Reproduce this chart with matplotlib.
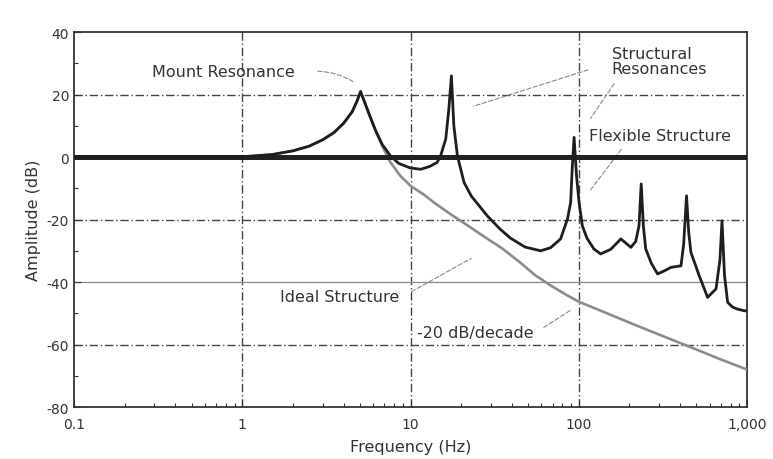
import matplotlib
matplotlib.use("Agg")
import matplotlib.pyplot as plt
from matplotlib.ticker import FixedLocator, NullFormatter

# ---- data ----
flex_freq = [0.1, 1, 1.5, 2, 2.5, 3, 3.5, 4, 4.5, 4.8,
             5.05, 5.3, 5.7, 6.2, 6.8, 7.6, 8.5, 10, 11.5, 13,
             14.4, 15.1, 16.2, 16.9, 17.5, 18.1, 19, 20.8, 23, 28.6,
             34, 39.4, 48, 59.4, 68, 78, 85.7, 89.5, 91.4, 93.8,
             97, 100.4, 105, 112, 123, 135, 155, 178, 204, 218,
             228, 235, 242, 250, 270, 294, 320, 353, 405, 420,
             437, 450, 464, 520, 583, 654, 690, 710, 735, 767,
             820, 870, 964, 1000]
flex_db = [0, 0.1, 0.8, 2.0, 3.5, 5.5, 7.8, 10.8, 14.5, 17.8,
           21, 18, 13.5, 8.5, 4, 0.4, -2, -3.5, -3.9, -3,
           -1.7, 0.4, 5.8, 15.4, 26, 10, 0.4, -8.1, -12.5, -18.8,
           -23, -26, -28.8, -30, -29, -26.2, -19.8, -14.5, -3.8, 6.3,
           -6, -14.5, -22, -26, -29.4, -31, -29.5, -26.2, -28.9, -27,
           -22, -8.6, -22, -29.4, -34, -37.4, -36.5, -35.3, -34.8, -28,
           -12.4, -24, -30.5, -38, -44.9, -42.2, -33, -20.4, -38, -46.5,
           -48, -48.6, -49.2, -49.2]

ideal_freq = [0.1, 1, 1.5, 2, 2.5, 3, 3.5, 4, 4.5, 4.8,
              5.05, 5.3, 5.7, 6.2, 6.8, 7.6, 8.7, 10, 12, 14,
              17, 22, 28, 35, 45, 55, 70, 85, 100, 130,
              170, 220, 300, 400, 550, 700, 1000]
ideal_db = [0, 0.1, 0.8, 2.0, 3.5, 5.5, 7.8, 10.8, 14.5, 17.8,
            21, 18, 13.5, 8.5, 3.5, -1.7, -6, -9.2, -12, -14.8,
            -18, -22, -25.8, -29.2, -33.8, -37.8, -41.5, -44.2, -46.3, -48.8,
            -51.4, -53.9, -56.8, -59.5, -62.5, -64.8, -68]

rigid_freq = [0.1, 1000]
rigid_db = [0, 0]

x_ticks = [0.1, 1, 10, 100, 1000]
x_tick_labels = ["0.1", "1", "10", "100", "1,000"]
y_ticks = [40, 20, 0, -20, -40, -60, -80]
y_tick_labels = ["40", "20", "0", "-20", "-40", "-60", "-80"]

# ---- figure ----
fig = plt.figure(figsize=(7.73, 4.60), dpi=100)
ax = fig.add_axes([0.0957, 0.113, 0.8707, 0.815])
ax.set_xscale("log")
ax.set_xlim(0.1, 1000)
ax.set_ylim(-80, 40)

txt = "#333333"
grid_c = "#444444"

# grid
for xv in [1, 10, 100]:
    ax.axvline(xv, color=grid_c, lw=1.0, ls=(0, (6, 2, 1, 2)), zorder=1)
for yv in [20, -20, -60]:
    ax.axhline(yv, color=grid_c, lw=1.0, ls=(0, (6, 2, 1, 2)), zorder=1)
ax.axhline(-40, color="#888888", lw=0.9, zorder=1)

# curves
ax.plot(ideal_freq, ideal_db, color="#8c8c8c", lw=1.9, zorder=3)
ax.plot(rigid_freq, rigid_db, color="#222222", lw=3.6, zorder=4,
        solid_capstyle="butt")
ax.plot(flex_freq, flex_db, color="#1e1e1e", lw=2.0, zorder=5)

# ticks
ax.xaxis.set_major_locator(FixedLocator(x_ticks))
ax.set_xticklabels(x_tick_labels)
ax.xaxis.set_minor_locator(FixedLocator(
    [m * d for d in [0.1, 1, 10, 100] for m in range(2, 10)]))
ax.xaxis.set_minor_formatter(NullFormatter())
ax.yaxis.set_major_locator(FixedLocator(y_ticks))
ax.set_yticklabels(y_tick_labels)
ax.yaxis.set_minor_locator(FixedLocator([30, 10, -10, -30, -50, -70]))
ax.tick_params(axis="both", which="both", direction="in", colors=txt,
               labelsize=10, width=0.8)
ax.tick_params(which="major", length=5)
ax.tick_params(which="minor", length=3)
ax.tick_params(axis="x", pad=7)

for s in ax.spines.values():
    s.set_color("#333333")
    s.set_linewidth(1.3)

ax.set_xlabel("Frequency (Hz)", fontsize=11.5, color=txt, labelpad=6)
ax.set_ylabel("Amplitude (dB)", fontsize=11.5, color=txt, labelpad=4)

# annotations
lead = dict(arrowstyle="-", color="#888888", lw=0.8, ls=(0, (4, 2)))
fs = 11.5
ax.text(0.29, 27.5, "Mount Resonance", fontsize=fs, color=txt,
        va="center", ha="left", zorder=6)
ax.annotate("", xy=(4.7, 23.7), xytext=(2.7, 27.5),
            arrowprops=dict(lead, connectionstyle="arc3,rad=-0.15"))

ax.text(157, 30.9, "Structural\nResonances", fontsize=fs, color=txt,
        va="center", ha="left", linespacing=1.0, zorder=6)
ax.annotate("", xy=(22.8, 16), xytext=(118, 28.2), arrowprops=lead)
ax.annotate("", xy=(115, 11.6), xytext=(166, 24.3), arrowprops=lead)

ax.text(115, 7, "Flexible Structure", fontsize=fs, color=txt,
        va="center", ha="left", zorder=6)
ax.annotate("", xy=(115, -11.2), xytext=(183, 3.2), arrowprops=lead)

ax.text(1.68, -44.5, "Ideal Structure", fontsize=fs, color=txt,
        va="center", ha="left", zorder=6)
ax.annotate("", xy=(23.7, -32), xytext=(9.8, -43.5), arrowprops=lead)

ax.text(11.0, -56, "-20 dB/decade", fontsize=fs, color=txt,
        va="center", ha="left", zorder=6)
ax.annotate("", xy=(92, -48.6), xytext=(60, -55), arrowprops=lead)

fig.savefig("out.png", dpi=100)
